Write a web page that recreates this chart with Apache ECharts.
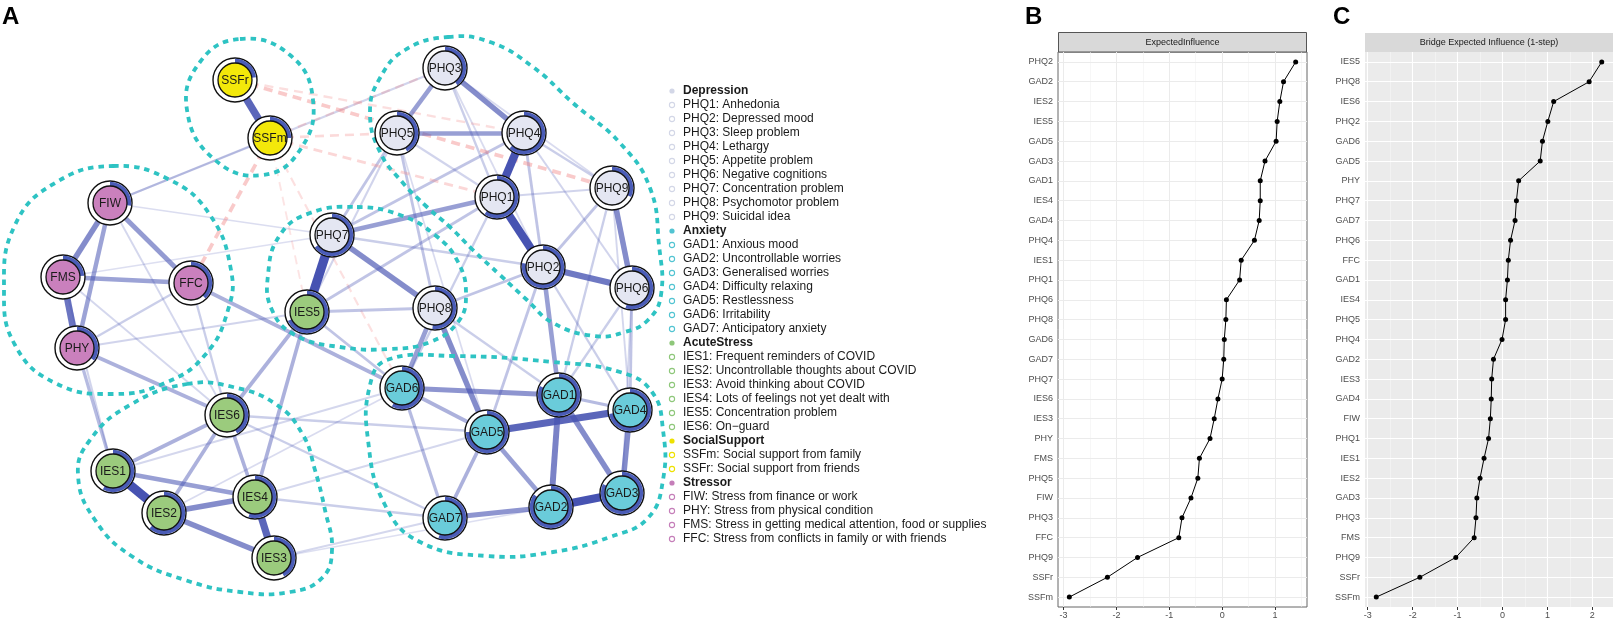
<!DOCTYPE html>
<html><head><meta charset="utf-8">
<script src="https://cdn.jsdelivr.net/npm/echarts@6.0.0/dist/echarts.min.js"></script>
<style>html,body{margin:0;padding:0;background:#fff}#c{width:1613px;height:620px}</style>
</head><body><div id="c"></div>
<script>
// ---------- Panel A: network data (qgraph-like layout units) ----------
const nodeNames = ['PHQ1','PHQ2','PHQ3','PHQ4','PHQ5','PHQ6','PHQ7','PHQ8','PHQ9',
  'GAD1','GAD2','GAD3','GAD4','GAD5','GAD6','GAD7',
  'IES1','IES2','IES3','IES4','IES5','IES6',
  'SSFm','SSFr','FIW','PHY','FMS','FFC'];
const nodeX = [497,543,445,524,397,632,332,435,612, 559,551,622,630,487,402,445, 113,164,274,255,307,227, 270,235, 110,77,63,191];
const nodeY = [197,267,68,133,133,288,235,308,188, 395,507,493,410,432,388,518, 471,513,558,497,312,415, 138,80, 203,348,277,283];
const nodeGroup = ['D','D','D','D','D','D','D','D','D','A','A','A','A','A','A','A','S','S','S','S','S','S','F','F','T','T','T','T'];
const nodePred = [0.60,0.78,0.40,0.62,0.42,0.55,0.65,0.52,0.32, 0.82,0.85,0.82,0.72,0.75,0.58,0.55, 0.58,0.62,0.42,0.55,0.68,0.42, 0.25,0.23, 0.27,0.35,0.24,0.38];
const groupFill = {D:'#E4E6F2', A:'#6ACCDA', S:'#9BCB7D', F:'#F3E80A', T:'#CA80BD'};

// edges: [from, to, weight] (negative = negative partial correlation)
const edges = [
  ['SSFr','SSFm',0.7],['FIW','FMS',0.5],['FIW','FFC',0.42],['FIW','PHY',0.38],['FMS','FFC',0.38],['FMS','PHY',0.62],
  ['PHQ3','PHQ5',0.4],['PHQ3','PHQ4',0.5],['PHQ5','PHQ4',0.4],['PHQ4','PHQ1',0.8],['PHQ1','PHQ2',0.8],['PHQ2','PHQ6',0.6],
  ['PHQ9','PHQ6',0.5],['PHQ1','PHQ7',0.4],['PHQ7','IES5',0.9],['PHQ7','PHQ8',0.5],['PHQ8','GAD5',0.5],['PHQ8','GAD6',0.4],
  ['GAD6','GAD1',0.45],['GAD5','GAD4',0.7],['GAD2','GAD3',0.8],['GAD1','GAD2',0.55],['GAD4','GAD3',0.5],['GAD1','GAD3',0.5],
  ['GAD7','GAD2',0.45],['GAD5','GAD2',0.4],['GAD6','GAD5',0.3],['GAD5','GAD7',0.3],['GAD1','GAD4',0.25],['GAD6','GAD7',0.25],
  ['IES1','IES2',0.9],['IES2','IES4',0.5],['IES2','IES3',0.5],['IES1','IES4',0.4],['IES4','IES3',0.7],['IES6','IES1',0.3],
  ['IES6','IES2',0.3],['IES6','IES4',0.3],['IES5','IES6',0.3],['IES5','IES4',0.3],['PHY','IES6',0.3],['PHY','IES1',0.25],
  ['FFC','GAD6',0.3],['PHQ2','GAD1',0.4],['PHQ9','PHQ2',0.2],['PHQ4','PHQ2',0.2],['PHQ9','PHQ4',0.15],['PHQ5','PHQ8',0.2],
  ['PHQ3','PHQ1',0.15],['PHQ5','PHQ7',0.2],['PHQ6','GAD4',0.2],['PHQ4','PHQ7',0.2],['IES5','PHQ8',0.2],['IES5','GAD6',0.2],
  ['IES5','PHQ1',0.2],['PHQ8','PHQ2',0.2],['PHQ7','PHQ2',0.15],['FIW','PHQ3',0.12],['FFC','IES6',0.15],['FFC','PHY',0.15],
  ['FMS','IES6',0.1],['IES6','GAD7',0.15],['IES4','GAD7',0.15],['IES3','GAD7',0.1],['IES6','GAD5',0.15],['IES1','GAD6',0.1],
  ['PHQ6','GAD1',0.15],['PHQ9','GAD1',0.15],['PHQ2','GAD5',0.2],['PHQ1','GAD6',0.15],['PHQ8','GAD1',0.15],['PHQ6','GAD3',0.1],
  ['PHQ2','GAD4',0.15],['FIW','IES6',0.1],['FMS','IES1',0.12],['PHQ9','PHQ1',0.12],['PHQ5','PHQ1',0.12],['PHQ6','PHQ4',0.12],
  ['FIW','SSFm',0.1],['PHY','IES5',0.12],['IES2','GAD6',0.08],['IES4','GAD5',0.1],['PHQ5','IES5',0.12],['PHQ3','PHQ9',0.08],
  ['PHQ3','PHQ2',0.08],['PHQ5','GAD5',0.08],['PHQ9','GAD4',0.1],['FMS','PHQ7',0.06],['FIW','PHQ7',0.07],['IES3','GAD2',0.06],
  ['SSFr','PHQ9',-0.3],['SSFm','FFC',-0.3],['SSFm','PHQ1',-0.2],['SSFm','PHQ3',-0.15],['SSFm','GAD6',-0.13],['SSFr','PHQ4',-0.15],
  ['SSFm','PHQ5',-0.18],['SSFm','IES5',-0.1]
];

// cluster outlines (layout units)
const clusterSS = [[240,39],[290,55],[313,100],[300,150],[263,175],[215,160],[187,110],[200,62]];
const clusterStress = [[113,166],[170,180],[210,215],[231,270],[228,310],[205,355],[165,383],[113,394],[55,383],[15,345],[4,290],[15,225],[55,183]];
const clusterDep = [[448,37],[490,42],[533,67],[573,103],[620,143],[650,188],[659,245],[661,295],[648,320],[625,332],[595,336],[553,323],[527,300],[500,275],[473,250],[450,227],[427,207],[403,183],[380,152],[370,112],[380,78],[405,50]];
const clusterPHQ7 = [[357,207],[400,215],[435,235],[458,262],[466,295],[458,322],[430,342],[390,349],[340,347],[295,335],[272,310],[268,275],[280,235],[310,213]];
const clusterGAD = [[387,360],[453,356],[553,362],[620,372],[652,392],[663,430],[663,480],[648,518],[610,537],[553,552],[487,556],[420,542],[385,505],[368,440],[370,385]];
const clusterIES = [[187,384],[233,387],[277,405],[303,435],[315,470],[325,510],[332,550],[322,578],[290,592],[240,592],[185,580],[133,557],[95,520],[78,475],[90,440],[130,405]];
const clusters = [clusterSS, clusterStress, clusterDep, clusterPHQ7, clusterGAD, clusterIES];

// legend
const legendLines = [
  ['h','D','Depression'],['i','D','PHQ1: Anhedonia'],['i','D','PHQ2: Depressed mood'],['i','D','PHQ3: Sleep problem'],['i','D','PHQ4: Lethargy'],
  ['i','D','PHQ5: Appetite problem'],['i','D','PHQ6: Negative cognitions'],['i','D','PHQ7: Concentration problem'],['i','D','PHQ8: Psychomotor problem'],['i','D','PHQ9: Suicidal idea'],
  ['h','A','Anxiety'],['i','A','GAD1: Anxious mood'],['i','A','GAD2: Uncontrollable worries'],['i','A','GAD3: Generalised worries'],['i','A','GAD4: Difficulty relaxing'],
  ['i','A','GAD5: Restlessness'],['i','A','GAD6: Irritability'],['i','A','GAD7: Anticipatory anxiety'],
  ['h','S','AcuteStress'],['i','S','IES1: Frequent reminders of COVID'],['i','S','IES2: Uncontrollable thoughts about COVID'],['i','S','IES3: Avoid thinking about COVID'],
  ['i','S','IES4: Lots of feelings not yet dealt with'],['i','S','IES5: Concentration problem'],['i','S','IES6: On\u2212guard'],
  ['h','F','SocialSupport'],['i','F','SSFm: Social support from family'],['i','F','SSFr: Social support from friends'],
  ['h','T','Stressor'],['i','T','FIW: Stress from finance or work'],['i','T','PHY: Stress from physical condition'],
  ['i','T','FMS: Stress in getting medical attention, food or supplies'],['i','T','FFC: Stress from conflicts in family or with friends']
];
const legendColor = {D:'#D3D7E7', A:'#52C4D2', S:'#8EC77A', F:'#EEE100', T:'#C57EB9'};

// ---------- Panel B: Expected Influence ----------
const eiCats = ['PHQ2','GAD2','IES2','IES5','GAD5','GAD3','GAD1','IES4','GAD4','PHQ4','IES1','PHQ1','PHQ6','PHQ8','GAD6','GAD7','PHQ7','IES6','IES3','PHY','FMS','PHQ5','FIW','PHQ3','FFC','PHQ9','SSFr','SSFm'];
const eiVals = [1.39,1.16,1.09,1.04,1.02,0.81,0.72,0.72,0.70,0.61,0.36,0.33,0.08,0.07,0.04,0.03,0.00,-0.08,-0.15,-0.23,-0.43,-0.46,-0.59,-0.76,-0.82,-1.60,-2.17,-2.89];
const eiTicks = [-3,-2,-1,0,1];
const eiMinor = [-2.5,-1.5,-0.5,0.5,1.5];

// ---------- Panel C: Bridge Expected Influence (1-step) ----------
const beiCats = ['IES5','PHQ8','IES6','PHQ2','GAD6','GAD5','PHY','PHQ7','GAD7','PHQ6','FFC','GAD1','IES4','PHQ5','PHQ4','GAD2','IES3','GAD4','FIW','PHQ1','IES1','IES2','GAD3','PHQ3','FMS','PHQ9','SSFr','SSFm'];
const beiVals = [2.21,1.93,1.14,1.01,0.89,0.84,0.36,0.31,0.28,0.18,0.13,0.11,0.07,0.07,-0.01,-0.20,-0.24,-0.25,-0.27,-0.31,-0.41,-0.50,-0.57,-0.59,-0.63,-1.04,-1.84,-2.81];
const beiTicks = [-3,-2,-1,0,1,2];
const beiMinor = [-2.5,-1.5,-0.5,0.5,1.5];

// ---------------------------------------------------------------
const FONT = "'Liberation Sans', Arial, sans-serif";
const idx = {}; nodeNames.forEach((n,i)=>idx[n]=i);
function expand(vals){const mn=Math.min(...vals),mx=Math.max(...vals),r=mx-mn;return [mn-0.05*r,mx+0.05*r];}
const eiExt = expand(eiVals), beiExt = expand(beiVals);

const edgeData = edges.slice().sort((a,b)=>Math.abs(a[2])-Math.abs(b[2])).map(e=>{
  const a=idx[e[0]], b=idx[e[1]], w=Math.abs(e[2]), pos=e[2]>0;
  return {coords:[[nodeX[a],nodeY[a]],[nodeX[b],nodeY[b]]],
    lineStyle:{color: pos?'#4753B2':'#F28A8A', width:1+w*9, opacity:Math.min(1,0.12+w*1.1), type: pos?'solid':[9,6], curveness:0}};
});

function gridLines(major, minor, cats, majorColor, majorW, minorColor, minorW){
  const d=[];
  minor.forEach(v=>d.push({xAxis:v, lineStyle:{color:minorColor,width:minorW,type:'solid'}}));
  major.forEach(v=>d.push({xAxis:v, lineStyle:{color:majorColor,width:majorW,type:'solid'}}));
  cats.forEach(c=>d.push({yAxis:c, lineStyle:{color:majorColor,width:majorW,type:'solid'}}));
  return d;
}

const graphics = [];
graphics.push({type:'text', x:2, y:17, style:{text:'A', font:'bold 24px '+FONT, fill:'#000', align:'left', verticalAlign:'middle'}});
graphics.push({type:'text', x:1025, y:17, style:{text:'B', font:'bold 24px '+FONT, fill:'#000', align:'left', verticalAlign:'middle'}});
graphics.push({type:'text', x:1333, y:17, style:{text:'C', font:'bold 24px '+FONT, fill:'#000', align:'left', verticalAlign:'middle'}});
// strips
graphics.push({type:'rect', shape:{x:1058.5,y:32.5,width:248,height:19.5}, style:{fill:'#D9D9D9', stroke:'#555', lineWidth:1}});
graphics.push({type:'text', x:1182.5, y:42.5, style:{text:'ExpectedInfluence', font:'9px '+FONT, fill:'#1A1A1A', align:'center', verticalAlign:'middle'}});
graphics.push({type:'rect', shape:{x:1365,y:33,width:248,height:19}, style:{fill:'#D9D9D9'}});
graphics.push({type:'text', x:1489, y:42.5, style:{text:'Bridge Expected Influence (1-step)', font:'9px '+FONT, fill:'#1A1A1A', align:'center', verticalAlign:'middle'}});
// legend
legendLines.forEach((l,i)=>{
  const y = 91 + 14*i;
  const col = legendColor[l[1]];
  if(l[0]==='h') graphics.push({type:'circle', shape:{cx:672,cy:y,r:2.6}, style:{fill:col}});
  else graphics.push({type:'circle', shape:{cx:672,cy:y,r:2.6}, style:{fill:'none', stroke:col, lineWidth:1.1}});
  graphics.push({type:'text', x:683, y:y, style:{text:l[2], font:(l[0]==='h'?'bold ':'')+'12px '+FONT, fill:'#1A1A1A', align:'left', verticalAlign:'middle'}});
});

const option = {
  animation:false,
  backgroundColor:'#fff',
  grid:[
    {left:0, top:0, width:660, height:620, show:false},
    {left:1058, top:52, width:249, height:556, show:true, backgroundColor:'#fff', borderColor:'#666', borderWidth:1},
    {left:1365, top:52, width:248, height:556, show:true, backgroundColor:'#EBEBEB', borderWidth:0}
  ],
  xAxis:[
    {gridIndex:0, type:'value', min:0, max:660, show:false},
    {gridIndex:1, type:'value', min:eiExt[0], max:eiExt[1], splitLine:{show:false},
      axisLine:{show:false}, axisTick:{show:true, length:3, lineStyle:{color:'#333'}, customValues:eiTicks},
      axisLabel:{customValues:eiTicks, fontSize:9, fontFamily:FONT, color:'#4D4D4D', margin:4}},
    {gridIndex:2, type:'value', min:beiExt[0], max:beiExt[1], splitLine:{show:false},
      axisLine:{show:false}, axisTick:{show:true, length:3, lineStyle:{color:'#333'}, customValues:beiTicks},
      axisLabel:{customValues:beiTicks, fontSize:9, fontFamily:FONT, color:'#4D4D4D', margin:4}}
  ],
  yAxis:[
    {gridIndex:0, type:'value', min:0, max:620, inverse:true, show:false},
    {gridIndex:1, type:'category', data:eiCats, inverse:true, axisLine:{show:false}, splitLine:{show:false},
      axisTick:{show:true, alignWithLabel:true, interval:0, length:3, lineStyle:{color:'#333'}},
      axisLabel:{interval:0, fontSize:9, fontFamily:FONT, color:'#4D4D4D', margin:5}},
    {gridIndex:2, type:'category', data:beiCats, inverse:true, axisLine:{show:false}, splitLine:{show:false},
      axisTick:{show:true, alignWithLabel:true, interval:0, length:3, lineStyle:{color:'#333'}},
      axisLabel:{interval:0, fontSize:9, fontFamily:FONT, color:'#4D4D4D', margin:5}}
  ],
  graphic: graphics,
  series:[
    {type:'lines', coordinateSystem:'cartesian2d', xAxisIndex:0, yAxisIndex:0, z:2, silent:true, data:edgeData, lineStyle:{cap:'butt'}},
    {type:'custom', coordinateSystem:'cartesian2d', xAxisIndex:0, yAxisIndex:0, z:3, silent:true,
      data: clusters.map((c,i)=>[c[0][0], c[0][1], i]), encode:{x:0,y:1},
      renderItem:(params, api)=>{
        const pts = clusters[api.value(2)].map(p=>api.coord(p));
        return {type:'polygon', shape:{points:pts, smooth:0.45}, style:{fill:null, stroke:'#2EC3C3', lineWidth:3.8, lineDash:[5.5,5]}};
      }},
    {type:'custom', coordinateSystem:'cartesian2d', xAxisIndex:0, yAxisIndex:0, z:4, silent:true,
      data: nodeNames.map((n,i)=>[nodeX[i], nodeY[i], i]), encode:{x:0,y:1},
      renderItem:(params, api)=>{
        const i = api.value(2);
        const p = api.coord([api.value(0), api.value(1)]);
        const cx=p[0], cy=p[1];
        const a0 = -Math.PI/2;
        return {type:'group', children:[
          {type:'circle', shape:{cx:cx,cy:cy,r:22}, style:{fill:'#fff', stroke:'#111', lineWidth:1.4}},
          {type:'sector', shape:{cx:cx,cy:cy,r0:17,r:21.2,startAngle:a0,endAngle:a0+2*Math.PI*nodePred[i],clockwise:true}, style:{fill:'#4A5CB7'}},
          {type:'circle', shape:{cx:cx,cy:cy,r:17}, style:{fill:groupFill[nodeGroup[i]], stroke:'#111', lineWidth:1.3}},
          {type:'text', x:cx, y:cy+0.5, style:{text:nodeNames[i], font:'12px '+FONT, fill:'#1A1A1A', align:'center', verticalAlign:'middle'}}
        ]};
      }},
    // Panel B grid lines + data
    {type:'line', xAxisIndex:1, yAxisIndex:1, data:eiVals, symbol:'none', lineStyle:{opacity:0}, z:1, silent:true,
      markLine:{silent:true, symbol:'none', z:1, label:{show:false}, animation:false,
        data:gridLines(eiTicks, eiMinor, eiCats, '#EBEBEB', 1, '#F2F2F2', 0.6)}},
    {type:'line', xAxisIndex:1, yAxisIndex:1, data:eiVals, z:3, symbol:'circle', symbolSize:5,
      itemStyle:{color:'#000'}, lineStyle:{color:'#000', width:1}},
    // Panel C grid lines + data
    {type:'line', xAxisIndex:2, yAxisIndex:2, data:beiVals, symbol:'none', lineStyle:{opacity:0}, z:1, silent:true,
      markLine:{silent:true, symbol:'none', z:1, label:{show:false}, animation:false,
        data:gridLines(beiTicks, beiMinor, beiCats, '#FFFFFF', 1.1, '#F7F7F7', 0.6)}},
    {type:'line', xAxisIndex:2, yAxisIndex:2, data:beiVals, z:3, symbol:'circle', symbolSize:5,
      itemStyle:{color:'#000'}, lineStyle:{color:'#000', width:1}}
  ]
};
const chart = echarts.init(document.getElementById('c'));
chart.setOption(option);
</script></body></html>
